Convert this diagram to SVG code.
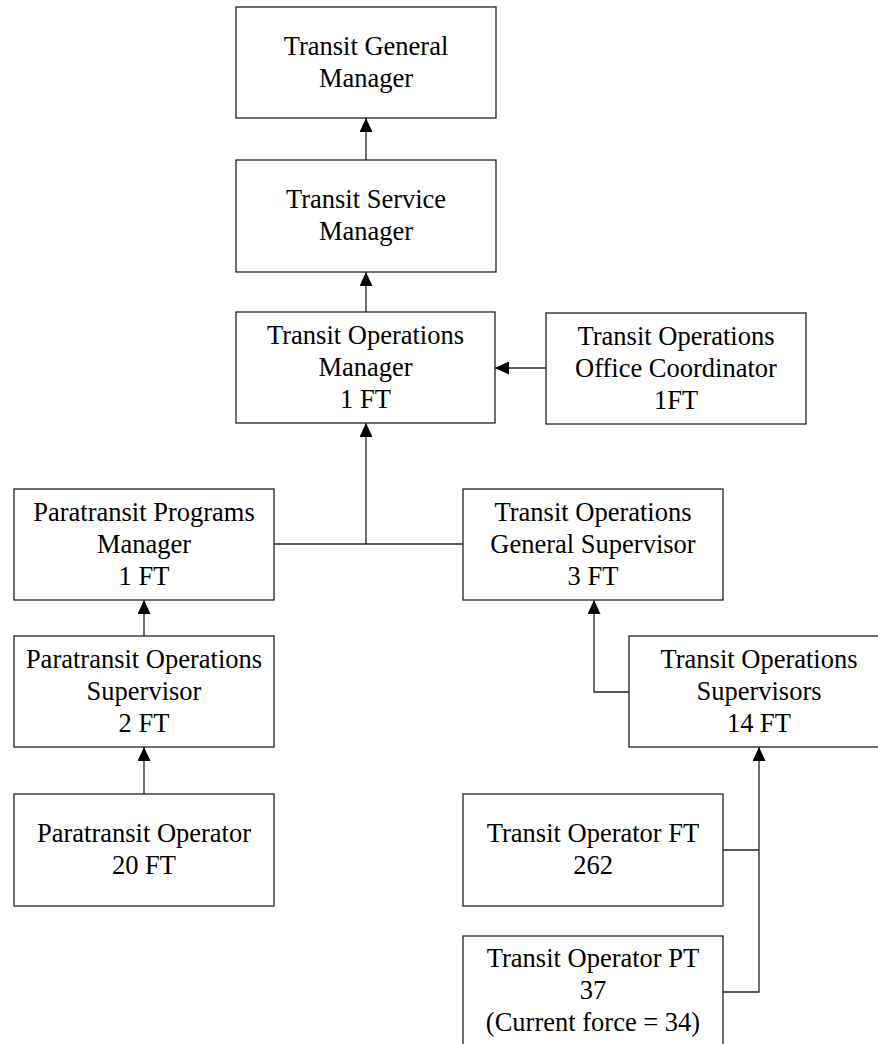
<svg xmlns="http://www.w3.org/2000/svg" width="878" height="1044" viewBox="0 0 878 1044">
  <style>
    .box { fill: #ffffff; stroke: #222222; stroke-width: 1.3; }
    .lbl { font-family: "Liberation Serif", "Times New Roman", serif; font-size: 26.5px; fill: #000000; text-anchor: middle; }
    .wire { fill: none; stroke: #222222; stroke-width: 1.3; }
  </style>
  <defs>
    <marker id="arrow" markerUnits="userSpaceOnUse" markerWidth="14" markerHeight="13" viewBox="0 0 14 13" refX="14" refY="6.5" orient="auto">
      <path d="M0,0 L14,6.5 L0,13 Z" fill="#000000"/>
    </marker>
  </defs>

  <rect width="878" height="1044" fill="#ffffff"/>

  <!-- connectors -->
  <g id="connectors">
    <path class="wire" d="M366,160 V118" marker-end="url(#arrow)"/>
    <path class="wire" d="M366,312 V272" marker-end="url(#arrow)"/>
    <path class="wire" d="M546,368 H495" marker-end="url(#arrow)"/>
    <path class="wire" d="M274,544 H463"/>
    <path class="wire" d="M366,544 V423" marker-end="url(#arrow)"/>
    <path class="wire" d="M144,636 V600" marker-end="url(#arrow)"/>
    <path class="wire" d="M144,794 V747" marker-end="url(#arrow)"/>
    <path class="wire" d="M629,692 H594 V600" marker-end="url(#arrow)"/>
    <path class="wire" d="M723,850 H759"/>
    <path class="wire" d="M723,992 H759 V747" marker-end="url(#arrow)"/>
  </g>

  <g id="transit-general-manager">
    <rect class="box" x="236" y="7" width="260" height="111"/>
    <text class="lbl" x="366" y="55">Transit General</text>
    <text class="lbl" x="366" y="87">Manager</text>
  </g>

  <g id="transit-service-manager">
    <rect class="box" x="236" y="160" width="260" height="112"/>
    <text class="lbl" x="366" y="208">Transit Service</text>
    <text class="lbl" x="366" y="240">Manager</text>
  </g>

  <g id="transit-operations-manager">
    <rect class="box" x="236" y="312" width="259" height="111"/>
    <text class="lbl" x="365.5" y="344">Transit Operations</text>
    <text class="lbl" x="365.5" y="376">Manager</text>
    <text class="lbl" x="365.5" y="408">1 FT</text>
  </g>

  <g id="office-coordinator">
    <rect class="box" x="546" y="313" width="260" height="111"/>
    <text class="lbl" x="676" y="345">Transit Operations</text>
    <text class="lbl" x="676" y="377">Office Coordinator</text>
    <text class="lbl" x="676" y="409">1FT</text>
  </g>

  <g id="paratransit-programs-manager">
    <rect class="box" x="14" y="489" width="260" height="111"/>
    <text class="lbl" x="144" y="521">Paratransit Programs</text>
    <text class="lbl" x="144" y="553">Manager</text>
    <text class="lbl" x="144" y="585">1 FT</text>
  </g>

  <g id="operations-general-supervisor">
    <rect class="box" x="463" y="489" width="260" height="111"/>
    <text class="lbl" x="593" y="521">Transit Operations</text>
    <text class="lbl" x="593" y="553">General Supervisor</text>
    <text class="lbl" x="593" y="585">3 FT</text>
  </g>

  <g id="paratransit-operations-supervisor">
    <rect class="box" x="14" y="636" width="260" height="111"/>
    <text class="lbl" x="144" y="668">Paratransit Operations</text>
    <text class="lbl" x="144" y="700">Supervisor</text>
    <text class="lbl" x="144" y="732">2 FT</text>
  </g>

  <g id="operations-supervisors">
    <rect class="box" x="629" y="636" width="260" height="111"/>
    <text class="lbl" x="759" y="668">Transit Operations</text>
    <text class="lbl" x="759" y="700">Supervisors</text>
    <text class="lbl" x="759" y="732">14 FT</text>
  </g>

  <g id="paratransit-operator">
    <rect class="box" x="14" y="794" width="260" height="112"/>
    <text class="lbl" x="144" y="842">Paratransit Operator</text>
    <text class="lbl" x="144" y="874">20 FT</text>
  </g>

  <g id="transit-operator-ft">
    <rect class="box" x="463" y="794" width="260" height="112"/>
    <text class="lbl" x="593" y="842">Transit Operator FT</text>
    <text class="lbl" x="593" y="874">262</text>
  </g>

  <g id="transit-operator-pt">
    <rect class="box" x="463" y="936" width="260" height="111"/>
    <text class="lbl" x="593" y="967">Transit Operator PT</text>
    <text class="lbl" x="593" y="999">37</text>
    <text class="lbl" x="593" y="1031">(Current force = 34)</text>
  </g>
</svg>
